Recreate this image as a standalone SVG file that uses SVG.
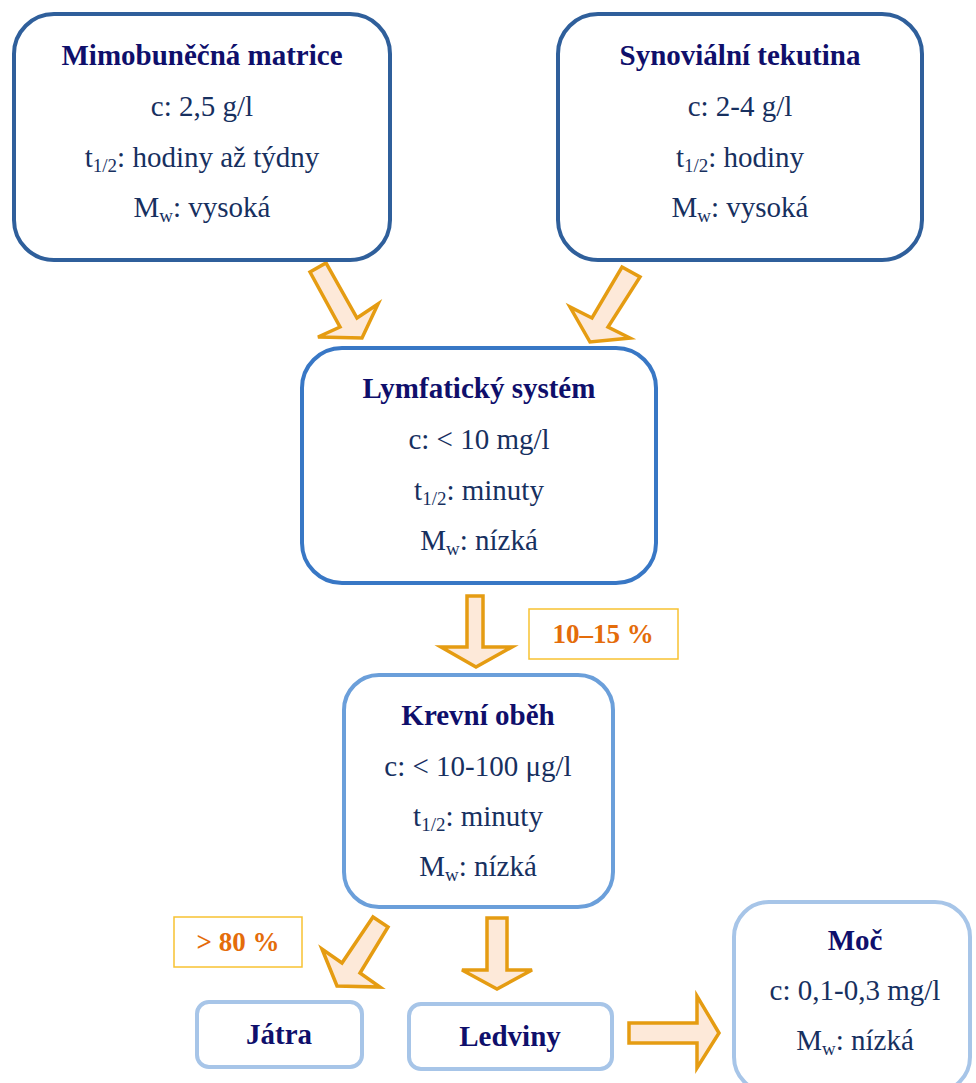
<svg xmlns="http://www.w3.org/2000/svg" width="976" height="1083" viewBox="0 0 976 1083">
<style>
.box{fill:#ffffff;stroke-width:4}
.b1{stroke:#2f5f9b}
.b2{stroke:#3877c5}
.b3{stroke:#6b9fda}
.b4{stroke:#a7c5e8}
.t{font-family:'Liberation Serif','Tinos','DejaVu Serif',serif;font-size:29px;fill:#0f0f6b;font-weight:bold;text-anchor:middle}
.x{font-family:'Liberation Serif','Tinos','DejaVu Serif',serif;font-size:29px;fill:#17305f;text-anchor:middle}
.s{font-size:19px}
.lab{fill:#ffffff;stroke:#f8c232;stroke-width:1.5}
.lt{font-family:'Liberation Serif','Tinos','DejaVu Serif',serif;font-size:27px;fill:#e46c0a;font-weight:bold;text-anchor:middle}
.arr{fill:#fde9d9;stroke:#e59c12;stroke-width:3.5;stroke-linejoin:miter}
</style>
<rect width="976" height="1083" fill="#ffffff"/>
<g id="connectors">
<polygon class="arr" points="310,272 326,263 357,318 378,304 362,338 318,337 340,327"/>
<polygon class="arr" points="622,267 640,277 608,327 630,338 590,342 570,307 592,318"/>
<polygon class="arr" points="467,596 483,596 483,647 512,647 476,667 441,647 467,647"/>
<polygon class="arr" points="373,917 388,927 360,973 380,987 337,986 322,949 342,963"/>
<polygon class="arr" points="487,918 507,918 507,970 532,970 497,989 462,970 487,970"/>
<polygon class="arr" points="629,1023 697,1023 697,996 719,1033 697,1068 697,1043 629,1043"/>
</g>
<g id="mimobunecna">
<rect class="box b1" x="14" y="14" width="376" height="246" rx="40"/>
<text class="t" x="202" y="65">Mimobuněčná matrice</text>
<text class="x" x="202" y="116">c: 2,5 g/l</text>
<text class="x" x="202" y="167">t<tspan class="s" dy="5">1/2</tspan><tspan dy="-5">: hodiny až týdny</tspan></text>
<text class="x" x="202" y="217">M<tspan class="s" dy="5">w</tspan><tspan dy="-5">: vysoká</tspan></text>
</g>
<g id="synovialni">
<rect class="box b1" x="558" y="14" width="364" height="246" rx="40"/>
<text class="t" x="740" y="65">Synoviální tekutina</text>
<text class="x" x="740" y="116">c: 2-4 g/l</text>
<text class="x" x="740" y="167">t<tspan class="s" dy="5">1/2</tspan><tspan dy="-5">: hodiny</tspan></text>
<text class="x" x="740" y="217">M<tspan class="s" dy="5">w</tspan><tspan dy="-5">: vysoká</tspan></text>
</g>
<g id="lymfaticky">
<rect class="box b2" x="302" y="348" width="354" height="235" rx="40"/>
<text class="t" x="479" y="398">Lymfatický systém</text>
<text class="x" x="479" y="449">c: &lt; 10 mg/l</text>
<text class="x" x="479" y="500">t<tspan class="s" dy="5">1/2</tspan><tspan dy="-5">: minuty</tspan></text>
<text class="x" x="479" y="550">M<tspan class="s" dy="5">w</tspan><tspan dy="-5">: nízká</tspan></text>
</g>
<g id="label1015">
<rect class="lab" x="529" y="609" width="149" height="50"/>
<text class="lt" x="603" y="643">10–15 %</text>
</g>
<g id="krevni">
<rect class="box b3" x="344" y="675" width="269" height="232" rx="35"/>
<text class="t" x="478" y="725">Krevní oběh</text>
<text class="x" x="478" y="776">c: &lt; 10-100 μg/l</text>
<text class="x" x="478" y="826">t<tspan class="s" dy="5">1/2</tspan><tspan dy="-5">: minuty</tspan></text>
<text class="x" x="478" y="876">M<tspan class="s" dy="5">w</tspan><tspan dy="-5">: nízká</tspan></text>
</g>
<g id="label80">
<rect class="lab" x="174" y="917" width="128" height="50"/>
<text class="lt" x="238" y="951">&gt; 80 %</text>
</g>
<g id="jatra">
<rect class="box b4" x="197" y="1002" width="165" height="65" rx="12"/>
<text class="t" x="279" y="1044">Játra</text>
</g>
<g id="ledviny">
<rect class="box b4" x="409" y="1004" width="203" height="65" rx="12"/>
<text class="t" x="510" y="1046">Ledviny</text>
</g>
<g id="moc">
<rect class="box b4" x="734" y="902" width="236" height="190" rx="35"/>
<text class="t" x="855" y="950">Moč</text>
<text class="x" x="855" y="1000">c: 0,1-0,3 mg/l</text>
<text class="x" x="855" y="1050">M<tspan class="s" dy="5">w</tspan><tspan dy="-5">: nízká</tspan></text>
</g>
</svg>
